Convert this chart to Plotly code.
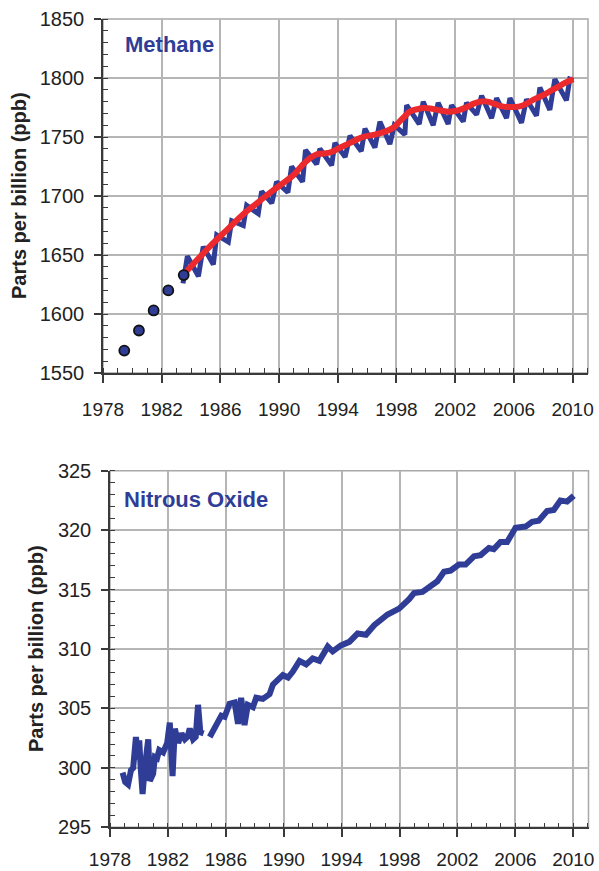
import plotly.graph_objects as go

# ---------------- data ----------------
ch4_pts_years = [1979.45, 1980.45, 1981.45, 1982.45, 1983.5]
ch4_pts_vals = [1569, 1586, 1603, 1620, 1633]

ch4_band_years = [1983.45, 1983.75, 1984.5, 1984.83, 1985.52, 1985.75, 1986.54, 1986.77,
                  1987.56, 1987.79, 1988.58, 1988.81, 1989.5, 1989.83, 1990.6, 1990.85,
                  1991.6, 1991.8, 1992.56, 1992.78, 1993.58, 1993.8, 1994.5, 1994.83,
                  1995.6, 1995.85, 1996.53, 1996.87, 1997.55, 1997.85, 1998.57, 1998.69,
                  1999.55, 1999.82, 2000.5, 2000.84, 2001.52, 2001.75, 2002.55, 2002.77,
                  2003.46, 2003.8, 2004.48, 2004.82, 2005.5, 2005.73, 2006.52, 2006.86,
                  2007.54, 2007.77, 2008.45, 2008.79, 2009.58, 2009.81, 2010.05]
ch4_band_vals = [1626, 1649, 1632, 1657, 1642, 1667, 1661, 1679, 1675, 1692, 1685, 1704,
                 1694, 1712, 1703, 1725, 1712, 1739, 1727, 1740, 1726, 1745, 1733, 1751,
                 1738, 1757, 1741, 1763, 1744, 1760, 1752, 1777, 1761, 1780, 1760, 1779,
                 1761, 1777, 1763, 1779, 1769, 1785, 1766, 1783, 1766, 1783, 1762, 1782,
                 1768, 1792, 1773, 1799, 1781, 1799, 1798]

ch4_trend_years = [1983.6, 1984.5, 1985.5, 1986.5, 1987.5, 1988.5, 1989.5, 1990.5, 1991.0,
                   1991.5, 1992.0, 1992.5, 1993.0, 1993.5, 1994.0, 1994.5, 1995.0, 1995.7,
                   1996.5, 1997.3, 1997.8, 1998.2, 1998.6, 1998.9, 1999.4, 1999.8, 2000.4,
                   2001.0, 2001.6, 2002.2, 2002.8, 2003.3, 2003.7, 2004.2, 2004.7, 2005.2,
                   2005.7, 2006.4, 2006.9, 2007.3, 2007.9, 2008.5, 2009.0, 2009.5, 2010.05]
ch4_trend_vals = [1635, 1647, 1660, 1672, 1684, 1694, 1704, 1713, 1718, 1725, 1731, 1735,
                  1736, 1737, 1740, 1743, 1746, 1750, 1752, 1755, 1758, 1763, 1768, 1771.5,
                  1773.5, 1774.5, 1774, 1772.5, 1771.5, 1772.5, 1775.5, 1778.5, 1780, 1780,
                  1778, 1776, 1775.5, 1776, 1778.5, 1781.5, 1785, 1789, 1792.5, 1796, 1799]

n2o_early_years = [1978.87, 1979.05, 1979.25, 1979.45, 1979.6, 1979.79, 1979.95, 1980.02,
                   1980.12, 1980.25, 1980.41, 1980.55, 1980.64, 1980.75, 1980.98, 1981.1,
                   1981.25, 1981.4, 1981.67, 1981.95, 1982.13, 1982.32, 1982.48, 1982.71,
                   1982.94, 1983.17, 1983.35, 1983.51, 1983.74, 1983.92, 1984.08, 1984.24,
                   1984.47]
n2o_early_vals = [299.6, 298.8, 298.6, 299.8, 300.0, 302.6, 300.7, 302.3, 300.0, 297.8,
                  300.1, 301.5, 302.4, 298.9, 299.5, 300.9, 300.8, 301.5, 301.3, 302.1,
                  303.8, 299.3, 303.3, 302.1, 302.9, 302.4, 302.6, 303.3, 302.4, 302.6,
                  305.3, 303.0, 302.9]

n2o_late_years = [1984.89, 1985.35, 1985.69, 1985.92, 1986.26, 1986.61, 1986.84, 1987.06,
                  1987.29, 1987.52, 1987.87, 1988.1, 1988.56, 1989.02, 1989.25, 1989.94,
                  1990.3, 1990.63, 1991.09, 1991.55, 1992.0, 1992.46, 1993.04, 1993.38,
                  1993.95, 1994.53, 1995.1, 1995.68, 1996.25, 1997.17, 1997.97, 1998.66,
                  1999.0, 1999.58, 2000.27, 2000.61, 2001.07, 2001.53, 2002.1, 2002.56,
                  2003.14, 2003.6, 2004.17, 2004.51, 2004.97, 2005.43, 2006.01, 2006.7,
                  2007.16, 2007.61, 2008.19, 2008.65, 2009.11, 2009.57, 2010.03]
n2o_late_vals = [302.6, 303.6, 304.4, 304.3, 305.4, 305.5, 303.7, 305.9, 303.6, 305.3,
                 305.1, 305.9, 305.8, 306.2, 307.0, 307.8, 307.6, 308.1, 309.0, 308.7,
                 309.2, 309.0, 310.2, 309.8, 310.3, 310.6, 311.3, 311.2, 312.0, 312.9,
                 313.4, 314.2, 314.7, 314.8, 315.5, 315.7, 316.5, 316.6, 317.1, 317.1,
                 317.8, 317.9, 318.5, 318.4, 319.0, 319.0, 320.2, 320.3, 320.7, 320.8,
                 321.6, 321.7, 322.5, 322.4, 322.9]

x_tick_vals = [1978, 1982, 1986, 1990, 1994, 1998, 2002, 2006, 2010]
ch4_ticks = [1550, 1600, 1650, 1700, 1750, 1800, 1850]
n2o_ticks = [295, 300, 305, 310, 315, 320, 325]

# ---------------- styling ----------------
W, H = 599, 871
BLUE = "#2f3d96"
RED = "#ec2a2e"
GRID = "#b5b5b5"
AXIS = "#3a3a3a"
TXT = "#222222"
FONT = "Liberation Sans, Arial, sans-serif"


def px(v, total):
    return v / total


top = dict(x0=103, x1=588, y0=19, y1=373)
bot = dict(x0=110, x1=588.5, y0=470.7, y1=827.3)

fig = go.Figure()

fig.add_trace(go.Scatter(x=ch4_band_years, y=ch4_band_vals, mode="lines",
                         line=dict(color=BLUE, width=5), xaxis="x", yaxis="y",
                         showlegend=False, hoverinfo="skip"))
fig.add_trace(go.Scatter(x=ch4_trend_years, y=ch4_trend_vals, mode="lines",
                         line=dict(color=RED, width=6, shape="spline", smoothing=1.3),
                         xaxis="x", yaxis="y", showlegend=False))
fig.add_trace(go.Scatter(x=ch4_pts_years, y=ch4_pts_vals, mode="markers",
                         marker=dict(color=BLUE, size=10, line=dict(color="#111111", width=1.8)),
                         xaxis="x", yaxis="y", showlegend=False))

n2o_x = n2o_early_years + [None] + n2o_late_years
n2o_y = n2o_early_vals + [None] + n2o_late_vals
fig.add_trace(go.Scatter(x=n2o_x, y=n2o_y, mode="lines", connectgaps=False,
                         line=dict(color=BLUE, width=6), xaxis="x2", yaxis="y2",
                         showlegend=False))


def xaxis(dom, anchor, standoff):
    return dict(domain=dom, anchor=anchor, range=[1978, 2011.05], automargin=False,
                tickmode="array", tickvals=x_tick_vals, ticks="outside", ticklen=8,
                tickwidth=1.5, tickcolor=AXIS, ticklabelstandoff=standoff,
                showgrid=True, gridcolor=GRID, gridwidth=1.5,
                showline=True, linecolor=AXIS, linewidth=1.5, zeroline=False,
                tickfont=dict(family=FONT, size=19, color=TXT),
                minor=dict(dtick=1, tick0=1978, ticks="inside", ticklen=5,
                           tickcolor=AXIS, tickwidth=1.2, showgrid=False))


def yaxis(dom, anchor, rng, tv, mdt):
    return dict(domain=dom, anchor=anchor, range=rng, automargin=False,
                tickmode="array", tickvals=tv, ticks="outside", ticklen=7,
                tickwidth=1.5, tickcolor=AXIS, ticklabelstandoff=6,
                showgrid=True, gridcolor=GRID, gridwidth=1.5,
                showline=True, linecolor=AXIS, linewidth=1.5, zeroline=False,
                tickfont=dict(family=FONT, size=20, color=TXT),
                minor=dict(dtick=mdt, tick0=rng[0], ticks="inside", ticklen=5,
                           tickcolor=AXIS, tickwidth=1.2, showgrid=False))


fig.update_layout(
    width=W, height=H, margin=dict(l=0, r=0, t=0, b=0, autoexpand=False),
    paper_bgcolor="white", plot_bgcolor="white",
    xaxis=xaxis([px(top["x0"], W), px(top["x1"], W)], "y", 10),
    yaxis=yaxis([1 - px(top["y1"], H), 1 - px(top["y0"], H)], "x", [1550, 1850], ch4_ticks, 10),
    xaxis2=xaxis([px(bot["x0"], W), px(bot["x1"], W)], "y2", 6),
    yaxis2=yaxis([1 - px(bot["y1"], H), 1 - px(bot["y0"], H)], "x2", [295, 325], n2o_ticks, 1),
)

# light frame on top/right
for xr, yr in (("x domain", "y domain"), ("x2 domain", "y2 domain")):
    fig.add_shape(type="rect", xref=xr, yref=yr, x0=0, x1=1, y0=0, y1=1,
                  line=dict(color="#a8a8a8", width=1.5), layer="below")

ann = []
ann.append(dict(text="<b>Methane</b>", x=px(123, W), y=1 - px(44, H), xref="paper", yref="paper",
                xanchor="left", yanchor="middle", showarrow=False,
                font=dict(family=FONT, size=22, color=BLUE)))
ann.append(dict(text="<b>Nitrous Oxide</b>", x=px(122, W), y=1 - px(500, H), xref="paper",
                yref="paper", xanchor="left", yanchor="middle", showarrow=False,
                font=dict(family=FONT, size=22, color=BLUE)))
ann.append(dict(text="<b>Parts per billion (ppb)</b>", x=px(19, W), y=1 - px(196, H),
                xref="paper", yref="paper", xanchor="center", yanchor="middle",
                textangle=-90, showarrow=False, font=dict(family=FONT, size=20, color=TXT)))
ann.append(dict(text="<b>Parts per billion (ppb)</b>", x=px(36, W), y=1 - px(649, H),
                xref="paper", yref="paper", xanchor="center", yanchor="middle",
                textangle=-90, showarrow=False, font=dict(family=FONT, size=20, color=TXT)))
fig.update_layout(annotations=ann)

fig.write_html("out.html")
